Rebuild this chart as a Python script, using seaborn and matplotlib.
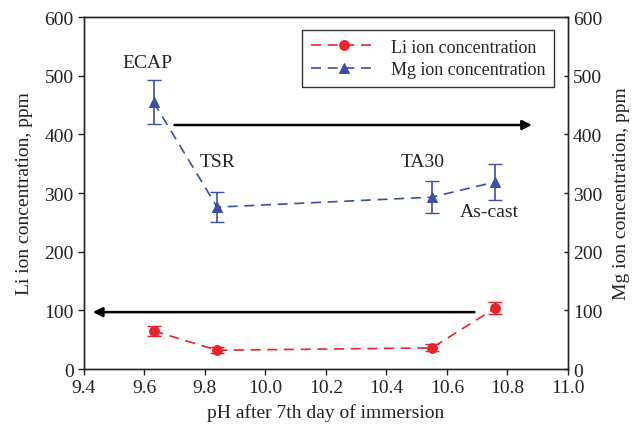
import pandas as pd
import matplotlib
matplotlib.use("Agg")
import matplotlib.pyplot as plt
import seaborn as sns

# datos
ph = [9.63, 9.84, 10.55, 10.76]
li_conc = [65, 32, 36, 104]
li_err = [8, 5, 6, 11]
mg_conc = [455, 276, 293, 319]
mg_err = [37, 26, 27, 31]
etiquetas = ["ECAP", "TSR", "TA30", "As-cast"]
etiqueta_pos = [(9.61, 523), (9.84, 354), (10.52, 354), (10.74, 269)]

df = pd.DataFrame({"ph": ph, "li": li_conc, "mg": mg_conc})

sns.set_style("ticks")
plt.rcParams["font.family"] = ["Liberation Serif", "DejaVu Serif"]
plt.rcParams["axes.linewidth"] = 1.0

rojo = "#e8232b"
azul = "#3b4fa6"

fig = plt.figure(figsize=(6.33, 4.31), dpi=100)
ax = fig.add_axes([0.1327, 0.1415, 0.7646, 0.8165])

sns.lineplot(data=df, x="ph", y="li", ax=ax, color=rojo, marker="o", markersize=7,
             markeredgecolor=rojo, linestyle=(0, (6, 4)), linewidth=1.2,
             label="Li ion concentration")
sns.lineplot(data=df, x="ph", y="mg", ax=ax, color=azul, marker="^", markersize=7,
             markeredgecolor=azul, linestyle=(0, (6, 4)), linewidth=1.2,
             label="Mg ion concentration")
ax.errorbar(ph, li_conc, yerr=li_err, fmt="none", ecolor=rojo, capsize=5, elinewidth=1.2)
ax.errorbar(ph, mg_conc, yerr=mg_err, fmt="none", ecolor=azul, capsize=5, elinewidth=1.2)

# flechas
ax.annotate("", xy=(10.89, 416), xytext=(9.69, 416),
            arrowprops=dict(arrowstyle="-|>", color="black", lw=1.8, mutation_scale=14))
ax.annotate("", xy=(9.42, 97), xytext=(10.70, 97),
            arrowprops=dict(arrowstyle="-|>", color="black", lw=1.8, mutation_scale=14))

for txt, (xx, yy) in zip(etiquetas, etiqueta_pos):
    ax.text(xx, yy, txt, ha="center", va="center", fontsize=14, color="#222222")

ax.set_xlim(9.4, 11.0)
ax.set_ylim(0, 600)
ax.set_xticks([9.4, 9.6, 9.8, 10.0, 10.2, 10.4, 10.6, 10.8, 11.0])
ax.set_xticklabels(["9.4", "9.6", "9.8", "10.0", "10.2", "10.4", "10.6", "10.8", "11.0"])
ax.set_yticks(range(0, 601, 100))
ax.tick_params(labelsize=14, direction="out", length=4, width=1, colors="#222222")
ax.set_xlabel("pH after 7th day of immersion", fontsize=14, labelpad=5, color="#222222")
ax.set_ylabel("Li ion concentration, ppm", fontsize=14, labelpad=8, color="#222222")

leg = ax.legend(loc="upper right", fontsize=13, frameon=True, fancybox=False,
                edgecolor="black", handlelength=3.6, borderpad=0.5,
                labelspacing=0.3, bbox_to_anchor=(0.99, 0.99))
leg.get_frame().set_linewidth(1.0)

ax2 = ax.twinx()
ax2.set_ylim(0, 600)
ax2.set_yticks(range(0, 601, 100))
ax2.tick_params(labelsize=14, direction="in", length=3, width=1, colors="#222222")
ax2.set_ylabel("Mg ion concentration, ppm", fontsize=14, labelpad=8, color="#222222")

fig.savefig("out.png", dpi=100)
